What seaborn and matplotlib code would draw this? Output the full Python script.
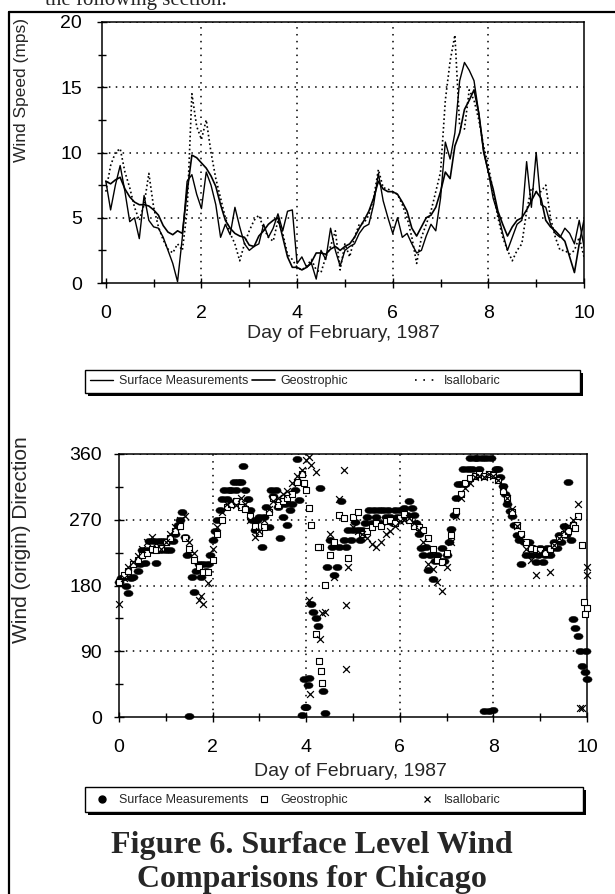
import numpy as np
import pandas as pd
import matplotlib
matplotlib.use("Agg")
import matplotlib.pyplot as plt
import seaborn as sns
from matplotlib.lines import Line2D
from matplotlib.patches import Rectangle
from matplotlib.path import Path
from matplotlib.transforms import Affine2D
from matplotlib.ticker import MultipleLocator

sns.set_style("ticks")
plt.rcParams["font.family"] = ["Liberation Sans", "DejaVu Sans"]

# ---------------- data ----------------
series_names = ["Surface Measurements", "Geostrophic", "Isallobaric"]
x_label = "Day of February, 1987"
speed_label = "Wind Speed (mps)"
dir_label = "Wind (origin) Direction"
caption = ["Figure 6. Surface Level Wind", "Comparisons for Chicago"]
preceding_text = "the following section."

# wind speed, every 0.1 day from day 0 to day 10
speed_days = np.arange(101) / 10.0
surface_speed = [
    7.8, 5.6, 7.5, 9.0, 7.0, 4.7, 5.0, 3.4, 6.7, 4.8,
    4.3, 4.2, 3.5, 2.5, 1.5, 0.1, 3.5, 7.8, 8.3, 6.8,
    5.7, 8.5, 7.5, 6.0, 3.5, 4.5, 3.7, 5.8, 4.3, 3.0,
    2.5, 2.8, 3.0, 4.5, 3.5, 4.2, 5.3, 4.0, 5.5, 5.6,
    1.5, 2.0, 1.2, 1.5, 0.3, 2.5, 1.8, 4.2, 2.5, 1.3,
    2.5, 2.8, 3.0, 3.8, 4.3, 4.5, 6.0, 8.4, 6.3, 5.0,
    3.8, 5.0, 3.5, 3.8, 3.0, 2.3, 2.5, 3.6, 4.5, 4.0,
    6.5, 10.8, 9.5, 11.5, 15.5, 16.9, 16.3, 15.5, 13.0, 10.0,
    8.5, 6.5, 5.3, 3.8, 2.5, 3.5, 4.5, 4.8, 9.3, 5.8,
    10.0, 6.0, 5.8, 4.5, 3.8, 3.5, 4.2, 3.8, 3.0, 4.8,
    2.8]
geo_speed = [
    7.8, 7.6, 7.9, 8.1, 7.2, 6.6, 6.2, 6.0, 6.0, 5.9,
    5.6, 5.2, 4.4, 3.9, 3.7, 4.0, 3.8, 7.0, 9.8, 9.6,
    9.2, 8.8, 8.2, 7.4, 6.0, 4.8, 4.2, 3.8, 3.6, 3.5,
    2.9, 2.8, 3.6, 4.0, 4.5, 4.8, 5.0, 3.5, 2.0, 1.2,
    1.2, 1.0, 1.2, 1.6, 2.3, 2.3, 2.2, 2.6, 2.8, 2.5,
    2.8, 3.0, 3.5, 4.2, 4.8, 5.5, 6.5, 7.8, 7.2, 7.0,
    7.0, 6.8, 6.2, 5.5, 4.2, 3.6, 4.3, 5.0, 5.2, 5.8,
    7.0, 8.5, 8.0, 10.5, 11.5, 13.3, 14.0, 14.8, 13.0, 10.2,
    8.5, 7.2, 5.5, 4.5, 3.6, 4.3, 4.8, 5.0, 5.6, 6.3,
    7.0, 6.5, 4.8, 4.3, 4.0, 3.6, 3.2, 2.0, 0.8, 3.0,
    4.8]
isall_speed = [
    7.0, 9.0, 10.0, 10.3, 8.5, 7.3, 5.8, 4.8, 6.0, 8.4,
    5.8, 4.3, 3.3, 2.6, 2.3, 3.0, 2.5, 5.5, 14.5, 12.0,
    11.0, 12.5, 10.0, 8.0, 6.5, 5.0, 3.8, 3.0, 1.7, 3.0,
    4.0, 4.8, 5.2, 4.2, 3.5, 3.2, 4.8, 3.8, 2.2, 1.8,
    1.2, 1.0, 1.3, 1.8, 1.0, 0.8, 2.0, 2.8, 4.0, 1.0,
    3.0, 2.0, 3.5, 4.5, 4.6, 5.2, 6.5, 8.7, 7.3, 7.2,
    7.0, 6.8, 6.0, 5.0, 3.5, 1.5, 3.5, 4.5, 5.5, 7.0,
    8.5, 14.0, 17.0, 19.0, 12.0, 11.8, 14.8, 14.0, 12.5, 10.5,
    9.0, 7.0, 5.0, 3.5, 2.5, 1.7, 2.5, 3.0, 5.5, 7.3,
    7.0, 7.0, 7.5, 5.0, 3.5, 2.5, 2.5, 2.2, 2.5, 3.5,
    2.0]

# wind direction (degrees), surface every 0.05 day
surface_dir_days = np.arange(201) / 20.0
surface_dir = [
    185, 190, 192, 180, 170, 190, 192, 210, 200, 210, 228, 211, 228, 241, 228, 241, 211, 241, 228, 241,
    228, 241, 228, 241, 251, 263, 270, 281, 247, 222, 1, 192, 171, 200, 210, 192, 210, 200, 210, 222,
    242, 254, 270, 283, 299, 311, 299, 311, 311, 322, 311, 322, 322, 343, 311, 299, 283, 270, 256, 270,
    274, 233, 274, 288, 260, 311, 302, 311, 288, 245, 274, 292, 263, 283, 292, 311, 353, 297, 3, 52,
    14, 54, 154, 144, 135, 124, 313, 35, 5, 206, 242, 233, 194, 206, 233, 295, 242, 233, 256, 242,
    256, 267, 256, 242, 256, 265, 274, 283, 265, 283, 274, 283, 265, 283, 274, 283, 274, 265, 283, 274,
    283, 274, 286, 277, 295, 286, 277, 265, 250, 231, 222, 233, 201, 222, 189, 214, 222, 214, 231, 214,
    222, 240, 258, 277, 300, 319, 319, 339, 319, 339, 355, 339, 355, 355, 339, 355, 8, 355, 8, 355,
    10, 339, 339, 328, 316, 305, 291, 282, 275, 263, 249, 242, 210, 240, 222, 240, 222, 231, 212, 222,
    231, 212, 222, 231, 222, 231, 240, 231, 249, 240, 261, 249, 322, 242, 134, 122, 111, 90, 70, 61,
    52]
surface_extra_days = [3.97, 4.03, 9.98]
surface_extra_dir = [14, 44, 90]

# geostrophic and isallobaric every 0.1 day
dir_days = np.arange(101) / 10.0
geo_dir = [
    185, 195, 200, 210, 215, 222, 225, 230, 228, 232,
    240, 245, 255, 262, 245, 230, 215, 205, 198, 199,
    215, 251, 270, 288, 292, 295, 288, 285, 275, 262,
    252, 260, 280, 300, 290, 295, 300, 305, 322, 333,
    311, 263, 113, 233, 181, 222, 240, 276, 272, 217,
    274, 281, 250, 255, 260, 265, 262, 268, 270, 265,
    272, 278, 270, 262, 260, 256, 245, 230, 215, 212,
    225, 249, 282, 305, 320, 327, 330, 332, 330, 333,
    331, 325, 310, 300, 280, 263, 250, 240, 232, 230,
    228, 225, 230, 236, 245, 250, 255, 263, 275, 236,
    149]
geo_extra_days = [3.95, 4.07, 4.26, 4.28, 4.31, 4.34, 9.75, 9.93, 9.96]
geo_extra_dir = [320, 286, 233, 77, 63, 47, 259, 157, 141]

isall_dir = [
    155, 190, 205, 212, 220, 230, 240, 247, 238, 230,
    240, 250, 260, 270, 275, 240, 225, 160, 155, 183,
    230, 260, 280, 292, 295, 290, 300, 292, 270, 247,
    255, 270, 285, 295, 300, 305, 310, 320, 330, 338,
    352, 345, 336, 107, 144, 251, 192, 299, 338, 206,
    260, 255, 250, 245, 237, 233, 240, 250, 255, 262,
    268, 270, 272, 265, 256, 240, 210, 203, 185, 173,
    205, 240, 275, 300, 314, 320, 328, 330, 328, 332,
    330, 325, 315, 300, 285, 262, 245, 230, 215, 194,
    225, 230, 199, 236, 245, 255, 262, 270, 291, 12,
    205]
isall_extra_days = [1.75, 4.05, 4.07, 4.09, 4.33, 4.86, 4.86, 9.85, 10.0]
isall_extra_dir = [165, 356, 160, 32, 142, 153, 66, 12, 194]

# ---------------- layout helpers ----------------
W, H = 615, 894
fig = plt.figure(figsize=(W / 100, H / 100), dpi=100)
fig.patch.set_facecolor("white")


def fx(px):
    return px / W


def fy(py):
    return 1 - py / H


def style_axes(ax, xmaj, xmin, ymaj, ymin, xedge, yedge, ypad, xpad):
    ax.set_facecolor("white")
    for s in ax.spines.values():
        s.set_color("black")
        s.set_linewidth(1.1)
        s.set_visible(True)
    ax.xaxis.set_major_locator(MultipleLocator(xmaj))
    ax.xaxis.set_minor_locator(MultipleLocator(xmin))
    ax.yaxis.set_major_locator(MultipleLocator(ymaj))
    ax.yaxis.set_minor_locator(MultipleLocator(ymin))
    ax.tick_params(which="both", direction="inout", colors="black",
                   top=False, right=False, width=1.0)
    ax.tick_params(which="major", length=7, labelsize=14)
    ax.tick_params(which="minor", length=6)
    ax.tick_params(axis="y", pad=ypad)
    ax.tick_params(axis="x", pad=xpad)
    ax.grid(True, which="major", color="black", lw=1.1, ls=(0, (1, 3.5)))
    ax.set_axisbelow(True)
    for t in ax.xaxis.get_major_ticks():
        if np.any(np.isclose(t.get_loc(), xedge)):
            t.gridline.set_visible(False)
    for t in ax.yaxis.get_major_ticks():
        if np.any(np.isclose(t.get_loc(), yedge)):
            t.gridline.set_visible(False)


def legend_frame(x0, x1, y0, y1):
    fig.add_artist(Rectangle((fx(x0 + 3), fy(y1 + 3)), fx(x1) - fx(x0), fy(y0) - fy(y1),
                             transform=fig.transFigure, facecolor="black",
                             edgecolor="black", lw=0, zorder=3))
    fig.add_artist(Rectangle((fx(x0), fy(y1)), fx(x1) - fx(x0), fy(y0) - fy(y1),
                             transform=fig.transFigure, facecolor="white",
                             edgecolor="black", lw=1.0, zorder=4))


def legend_entry(handle, label, xpx, ypx):
    lg = fig.legend(handles=[handle], labels=[label], loc="center left",
                    bbox_to_anchor=(fx(xpx), fy(ypx)), bbox_transform=fig.transFigure,
                    frameon=False, fontsize=9, handlelength=1.85, handletextpad=0.45,
                    borderpad=0, borderaxespad=0, numpoints=1)
    lg.set_zorder(5)


# ---------------- upper panel: wind speed ----------------
ax1 = fig.add_axes([fx(102), fy(283), fx(584) - fx(102), fy(22) - fy(283)])
df_speed = pd.DataFrame({"day": speed_days,
                         series_names[0]: surface_speed,
                         series_names[1]: geo_speed,
                         series_names[2]: isall_speed})
sns.lineplot(data=df_speed, x="day", y=series_names[0], ax=ax1, color="black",
             lw=1.0, legend=False)
sns.lineplot(data=df_speed, x="day", y=series_names[1], ax=ax1, color="black",
             lw=1.2, legend=False)
sns.lineplot(data=df_speed, x="day", y=series_names[2], ax=ax1, color="black",
             lw=1.2, ls=(0, (1, 1.6)), legend=False)
ax1.set_xlim(-0.08, 10.0)
ax1.set_ylim(0, 20)
style_axes(ax1, 2, 1, 5, 2.5, [0, 10], [0, 20], 11, 12)
ax1.set_xlabel(x_label, fontsize=14)
ax1.set_ylabel(speed_label, fontsize=12.5)
ax1.xaxis.label.set_va("center")
ax1.yaxis.label.set_va("center")
ax1.xaxis.set_label_coords(fx(343), fy(333), transform=fig.transFigure)
ax1.yaxis.set_label_coords(fx(22), fy(90), transform=fig.transFigure)

legend_frame(85, 580, 370, 393)
up_handles = [Line2D([], [], color="black", lw=1.0),
              Line2D([], [], color="black", lw=1.2),
              Line2D([], [], color="black", lw=1.2, ls=(0, (1, 4)))]
for h, lab, xs in zip(up_handles, series_names, [90, 252, 415]):
    legend_entry(h, lab, xs, 381)

# ---------------- lower panel: wind direction ----------------
ax2 = fig.add_axes([fx(119), fy(717), fx(587) - fx(119), fy(454) - fy(717)])
ellipse = Path.unit_circle().transformed(Affine2D().scale(1.45, 1.0))

surf_x = np.concatenate([surface_dir_days, surface_extra_days])
surf_y = np.concatenate([surface_dir, surface_extra_dir])
geo_x = np.concatenate([dir_days, geo_extra_days])
geo_y = np.concatenate([geo_dir, geo_extra_dir])
isa_x = np.concatenate([dir_days, isall_extra_days])
isa_y = np.concatenate([isall_dir, isall_extra_dir])

sns.scatterplot(x=surf_x, y=surf_y, ax=ax2, marker=ellipse, s=44, color="black",
                edgecolor="black", linewidth=0.3, legend=False, clip_on=False, zorder=3)
sns.scatterplot(x=geo_x, y=geo_y, ax=ax2, marker="s", s=22, facecolor="white",
                edgecolor="black", linewidth=0.8, legend=False, clip_on=False, zorder=4)
sns.scatterplot(x=isa_x, y=isa_y, ax=ax2, marker="x", s=24, color="black",
                linewidth=0.9, legend=False, clip_on=False, zorder=5)
ax2.set_xlim(0, 10)
ax2.set_ylim(0, 360)
style_axes(ax2, 2, 1, 90, 45, [0, 10], [0, 360], 9, 12)
ax2.set_xlabel(x_label, fontsize=14)
ax2.set_ylabel(dir_label, fontsize=15)
ax2.xaxis.label.set_va("center")
ax2.yaxis.label.set_va("center")
ax2.xaxis.set_label_coords(fx(350), fy(772), transform=fig.transFigure)
ax2.yaxis.set_label_coords(fx(22), fy(540), transform=fig.transFigure)

legend_frame(85, 583, 787, 812)
lo_handles = [Line2D([], [], ls="none", marker="o", ms=5, color="black"),
              Line2D([], [], ls="none", marker="s", ms=5, mfc="white", mec="black", mew=0.8),
              Line2D([], [], ls="none", marker="x", ms=5, color="black", mew=0.9)]
for h, lab, xs in zip(lo_handles, series_names, [90, 252, 415]):
    legend_entry(h, lab, xs, 800)

# ---------------- page decorations ----------------
fig.add_artist(Line2D([fx(9), 1.01], [fy(12), fy(12)], transform=fig.transFigure,
                      color="black", lw=1.6))
fig.add_artist(Line2D([fx(9), fx(9)], [fy(12), -0.01], transform=fig.transFigure,
                      color="black", lw=1.6))
fig.text(fx(45), fy(5), preceding_text, family="Liberation Serif", fontsize=15,
         va="baseline", ha="left")
fig.text(fx(312), fy(845), caption[0], family="Liberation Serif", weight="bold",
         fontsize=23, ha="center", va="center")
fig.text(fx(312), fy(879), caption[1], family="Liberation Serif", weight="bold",
         fontsize=23, ha="center", va="center")

fig.savefig("out.png", dpi=100, facecolor="white")
